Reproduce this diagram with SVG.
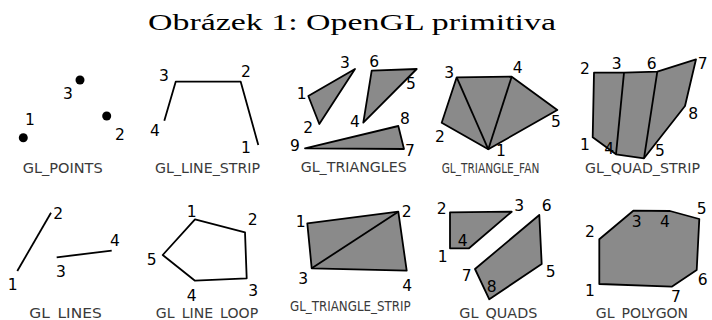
<svg xmlns="http://www.w3.org/2000/svg" width="712" height="320" viewBox="0 0 712 320">
<style>
.t{font-family:"Liberation Serif","DejaVu Serif",serif;font-size:23.5px;fill:#000}
.n{font-family:"DejaVu Sans",sans-serif;font-size:15.5px;fill:#000;text-anchor:middle}
.c{font-family:"DejaVu Sans",sans-serif;font-size:14px;fill:#3a3a3a;text-anchor:middle}
.s{fill:#8a8a8a;stroke:#000;stroke-width:1.8;stroke-linejoin:round}
.l{fill:none;stroke:#000;stroke-width:1.8;stroke-linejoin:round}
.d{fill:#000}
</style>
<rect width="712" height="320" fill="#fff"/>
<text class="t" x="148" y="29.5" textLength="408" lengthAdjust="spacingAndGlyphs">Obrázek 1: OpenGL primitiva</text>

<g id="points">
<circle class="d" cx="80" cy="80" r="4.5"/>
<circle class="d" cx="106.7" cy="116" r="4.5"/>
<circle class="d" cx="23.3" cy="137.7" r="4.5"/>
<text class="n" x="30" y="125">1</text>
<text class="n" x="120" y="140">2</text>
<text class="n" x="68" y="99">3</text>
<text class="c" x="62.7" y="172.7" textLength="80" lengthAdjust="spacingAndGlyphs">GL_POINTS</text>
</g>

<g id="line_strip">
<polyline class="l" points="258.3,145 240.7,81.7 175.7,81.7 164.3,120.7"/>
<text class="n" x="246" y="153.3">1</text>
<text class="n" x="246" y="77.3">2</text>
<text class="n" x="164" y="80.7">3</text>
<text class="n" x="155" y="136">4</text>
<text class="c" x="207.5" y="172.7" textLength="105" lengthAdjust="spacingAndGlyphs">GL_LINE_STRIP</text>
</g>

<g id="triangles">
<polygon class="s" points="308.3,96 319.3,124 355,69"/>
<polygon class="s" points="363.3,122.7 416.7,69 371.7,70.7"/>
<polygon class="s" points="305,148.3 398.3,126 404,149"/>
<text class="n" x="301.7" y="99.3">1</text>
<text class="n" x="308.3" y="133.3">2</text>
<text class="n" x="345" y="68.3">3</text>
<text class="n" x="355" y="127.3">4</text>
<text class="n" x="411" y="89.3">5</text>
<text class="n" x="374.3" y="67.3">6</text>
<text class="n" x="410" y="155.5">7</text>
<text class="n" x="405" y="124">8</text>
<text class="n" x="295" y="151">9</text>
<text class="c" x="353.7" y="171.7" textLength="106" lengthAdjust="spacingAndGlyphs">GL_TRIANGLES</text>
</g>

<g id="triangle_fan">
<polygon class="s" points="488.3,149.3 441.7,122.7 456.7,77.3 511.7,76.7 557.3,110"/>
<line class="l" x1="488.3" y1="149.3" x2="456.7" y2="77.3"/>
<line class="l" x1="488.3" y1="149.3" x2="511.7" y2="76.7"/>
<text class="n" x="501" y="156">1</text>
<text class="n" x="440" y="141.7">2</text>
<text class="n" x="449.3" y="78.3">3</text>
<text class="n" x="517.7" y="73.3">4</text>
<text class="n" x="556" y="127.3">5</text>
<text class="c" x="490.5" y="172.5" font-size="12.5" textLength="97.6" lengthAdjust="spacingAndGlyphs">GL_TRIANGLE_FAN</text>
</g>

<g id="quad_strip">
<polygon class="s" points="592.7,137.3 594,72.7 624,72.7 657.3,71.7 696,59.3 685,106 644,158.3 616,154.3"/>
<line class="l" x1="624" y1="72.7" x2="616" y2="154.3"/>
<line class="l" x1="657.3" y1="71.7" x2="644" y2="158.3"/>
<text class="n" x="585" y="150">1</text>
<text class="n" x="585" y="74">2</text>
<text class="n" x="616.7" y="69">3</text>
<text class="n" x="609.3" y="154.3">4</text>
<text class="n" x="660" y="156">5</text>
<text class="n" x="651.7" y="69">6</text>
<text class="n" x="702.7" y="69.3">7</text>
<text class="n" x="693.3" y="119">8</text>
<text class="c" x="642.5" y="172.5" textLength="115" lengthAdjust="spacingAndGlyphs">GL_QUAD_STRIP</text>
</g>

<g id="lines">
<line class="l" x1="17.3" y1="271" x2="51" y2="212.7"/>
<line class="l" x1="56.7" y1="257.3" x2="111.7" y2="250.7"/>
<text class="n" x="12.7" y="290">1</text>
<text class="n" x="58.3" y="219.3">2</text>
<text class="n" x="61" y="276.7">3</text>
<text class="n" x="115" y="245.7">4</text>
<text class="c" x="65.5" y="318" textLength="72.4" lengthAdjust="spacingAndGlyphs">GL_LINES</text>
</g>

<g id="line_loop">
<polygon class="l" points="195,219.3 245,232.3 246.7,278.3 195,280.7 162.7,255"/>
<text class="n" x="191.7" y="216.7">1</text>
<text class="n" x="252.7" y="225">2</text>
<text class="n" x="253.3" y="295.7">3</text>
<text class="n" x="191.7" y="300.7">4</text>
<text class="n" x="151.7" y="265">5</text>
<text class="c" x="207" y="318" textLength="102.3" lengthAdjust="spacingAndGlyphs">GL_LINE_LOOP</text>
</g>

<g id="triangle_strip">
<polygon class="s" points="307.3,223.3 398.3,211.7 406.7,270.7 311.7,268.3"/>
<line class="l" x1="311.7" y1="268.3" x2="398.3" y2="211.7"/>
<text class="n" x="300.7" y="226.7">1</text>
<text class="n" x="406.7" y="216.7">2</text>
<text class="n" x="303.3" y="284">3</text>
<text class="n" x="407.3" y="290.7">4</text>
<text class="c" x="350.3" y="310.7" font-size="12.5" textLength="120.7" lengthAdjust="spacingAndGlyphs">GL_TRIANGLE_STRIP</text>
</g>

<g id="quads">
<polygon class="s" points="450,248.3 450,212.3 511.7,211.7 469,248.3"/>
<polygon class="s" points="541.7,264 539.3,215 475,269 489.3,299.3"/>
<text class="n" x="442.7" y="262.3">1</text>
<text class="n" x="441.7" y="214">2</text>
<text class="n" x="519.3" y="210.7">3</text>
<text class="n" x="462.7" y="245.7">4</text>
<text class="n" x="550.7" y="277.3">5</text>
<text class="n" x="546.7" y="210.7">6</text>
<text class="n" x="466.7" y="280.7">7</text>
<text class="n" x="491.7" y="291.7">8</text>
<text class="c" x="498.3" y="318" textLength="78" lengthAdjust="spacingAndGlyphs">GL_QUADS</text>
</g>

<g id="polygon">
<polygon class="s" points="599.3,284 599.3,239.3 633.3,210.7 670,211 699.3,219 696.7,270 671.7,286.7"/>
<text class="n" x="590" y="296">1</text>
<text class="n" x="590" y="236.7">2</text>
<text class="n" x="636.7" y="227.3">3</text>
<text class="n" x="665" y="226.7">4</text>
<text class="n" x="701.7" y="214">5</text>
<text class="n" x="702.7" y="285">6</text>
<text class="n" x="676" y="301.7">7</text>
<text class="c" x="642" y="318" textLength="92.3" lengthAdjust="spacingAndGlyphs">GL_POLYGON</text>
</g>
</svg>
